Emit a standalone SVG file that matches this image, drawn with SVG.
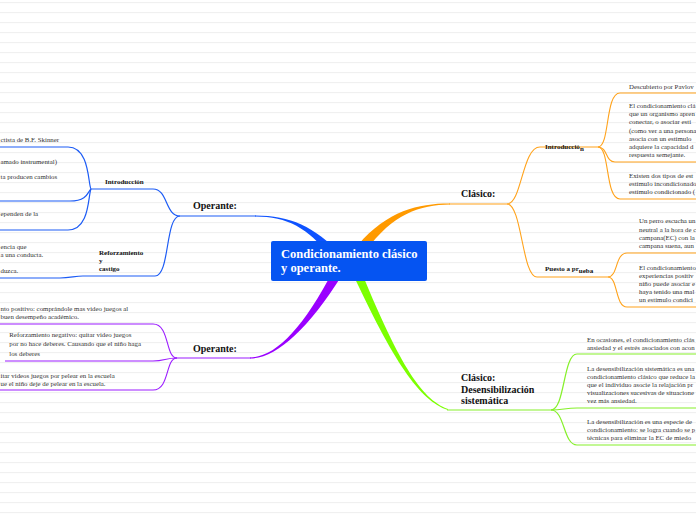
<svg xmlns="http://www.w3.org/2000/svg" width="696" height="520" viewBox="0 0 696 520">
<defs>
<pattern id="ruled" width="696" height="10" patternUnits="userSpaceOnUse">
<rect width="696" height="10" fill="#ffffff"/>
<line x1="0" y1="2.6" x2="696" y2="2.6" stroke="#efefef" stroke-width="1"/>
</pattern>
<style>
.lbl{font-family:"Liberation Serif","Times New Roman",serif;font-weight:bold;font-size:10px;fill:#111}
.sm{font-family:"Liberation Serif","Times New Roman",serif;font-weight:bold;font-size:7px;fill:#111}
.leaf{font-family:"Liberation Serif","Times New Roman",serif;font-size:6.85px;fill:#333}
.root{font-family:"Liberation Serif","Times New Roman",serif;font-weight:bold;font-size:12.5px;fill:#ffffff}
.cb{fill:none;stroke:#1d5cf5;stroke-width:1.2}
.co{fill:none;stroke:#ffa21a;stroke-width:1.1}
.cp{fill:none;stroke:#9b1cff;stroke-width:1.1}
.cg{fill:none;stroke:#86f02a;stroke-width:1.2}
</style>
</defs>
<rect width="696" height="520" fill="url(#ruled)"/>

<g id="connectors">
<path d="M 255 215.4 C 290 215.3, 314 226.3, 341.8 254.7 L 334.2 261.3 C 310 229.7, 290 216.7, 255 216.6 Z" fill="#0e52ff"/>
<path d="M 250 357.4 C 275 357.4, 303 328.8, 333.7 269.5 L 342.4 274.5 C 307 331.2, 275 358.6, 250 358.6 Z" fill="#9a00ff"/>
<path d="M 450 203.4 C 420 203.2, 387.5 210, 358.1 244.9 L 365.9 251.1 C 392.5 214, 420 204.8, 450 204.6 Z" fill="#ff9a00"/>
<path d="M 448 408.9 C 420.5 399.3, 397 359, 359.1 266.2 L 350.9 269.8 C 393 361, 419.5 400.7, 448 410.1 Z" fill="#7cff00"/>

<path class="cb" d="M 180 216 H 256"/>
<path class="cb" d="M 180 216 C 165 216, 168 189, 153 189 H 91"/>
<path class="cb" d="M 180 216 C 165 216, 170 276, 155 276 H 83"/>
<path class="cb" d="M 83 276 C 75 276, 70 278, 60 278 H 0"/>
<path class="cb" d="M 91 189 C 88 185, 90 147, 68 147 H 0"/>
<path class="cb" d="M 91 189 C 88 191, 88 201, 70 201 H 0"/>
<path class="cb" d="M 91 189 C 88 195, 90 230, 68 230 H 0"/>

<path class="cp" d="M 177 358 H 251"/>
<path class="cp" d="M 177 358 C 165 358, 170 324, 153 324 H 0"/>
<path class="cp" d="M 177 358 C 165 358, 165 361, 153 361 H 5"/>
<path class="cp" d="M 177 358 C 165 358, 170 390, 153 390 H 0"/>

<path class="co" d="M 449 204 H 507"/>
<path class="co" d="M 507 204 C 522 204, 522 147, 540 147 H 598"/>
<path class="co" d="M 507 204 C 522 204, 522 277, 537 277 H 608"/>
<path class="co" d="M 598 147 C 610 147, 605 93, 620 93 H 696"/>
<path class="co" d="M 598 147 C 608 147, 605 162, 615 162 H 696"/>
<path class="co" d="M 598 147 C 610 147, 605 199, 620 199 H 696"/>
<path class="co" d="M 608 277 C 618 277, 615 253, 627 253 H 696"/>
<path class="co" d="M 608 277 C 618 277, 615 307, 627 307 H 696"/>

<path class="cg" d="M 447 410 H 551"/>
<path class="cg" d="M 551 410 C 565 410, 563 354, 577 354 H 696"/>
<path class="cg" d="M 551 410 C 563 410, 565 408, 577 408 H 696"/>
<path class="cg" d="M 551 410 C 565 410, 563 445, 577 445 H 696"/>
</g>

<g id="root">
<rect x="271" y="241" width="156" height="40" rx="2" fill="#0554f2"/>
<text class="root" x="281" y="258">Condicionamiento clásico</text>
<text class="root" x="281" y="272">y operante.</text>
</g>

<g id="operante-1"><text class="lbl" x="193" y="208.5">Operante:</text></g>
<g id="introduccion-1"><text class="sm" x="105" y="184">Introducción</text></g>
<g id="reforzamiento"><text class="sm" x="99" y="255">Reforzamiento</text><text class="sm" x="99" y="263">y</text><text class="sm" x="99" y="271">castigo</text></g>
<g id="leaf-skinner"><text class="leaf" x="0.5" y="142">ctista de B.F. Skinner</text></g>
<g id="leaf-instrumental"><text class="leaf" x="0.5" y="163.5">amado instrumental)</text><text class="leaf" x="0.5" y="179">ta producen cambios</text></g>
<g id="leaf-dependen"><text class="leaf" x="0.5" y="216">ependen de la</text></g>
<g id="leaf-consecuencia"><text class="leaf" x="0.5" y="248.5">encia que</text><text class="leaf" x="0.5" y="257">a una conducta.</text><text class="leaf" x="0.5" y="272.5">duzca.</text></g>

<g id="operante-2"><text class="lbl" x="193" y="352">Operante:</text></g>
<g id="leaf-positivo"><text class="leaf" x="0.5" y="311">nto positivo: comprándole mas video juegos al</text><text class="leaf" x="0.5" y="319">buen desempeño académico.</text></g>
<g id="leaf-negativo"><text class="leaf" x="9.3" y="336.5">Reforzamiento negativo: quitar video juegos</text><text class="leaf" x="9.3" y="346">por no hace deberes. Causando que el niño haga</text><text class="leaf" x="9.3" y="355.5">los deberes</text></g>
<g id="leaf-castigo"><text class="leaf" x="0.5" y="378">itar videos juegos por pelear en la escuela</text><text class="leaf" x="0.5" y="385.5">ue el niño deje de pelear en la escuela.</text></g>

<g id="clasico"><text class="lbl" x="461" y="197">Clásico:</text></g>
<g id="introduccion-2"><text class="sm" x="545" y="149">Introducció<tspan dy="2">n</tspan></text></g>
<g id="puesto"><text class="sm" x="545" y="271">Puesto a pr<tspan dy="1.5">ueba</tspan></text></g>
<g id="leaf-pavlov"><text class="leaf" x="629" y="88.5">Descubierto por Pavlov</text></g>
<g id="leaf-def"><text class="leaf" x="629" y="108">El condicionamiento clá</text><text class="leaf" x="629" y="116.2">que un organismo apren</text><text class="leaf" x="629" y="124.4">conectar, o asociar estí</text><text class="leaf" x="629" y="132.6">(como ver a una persona</text><text class="leaf" x="629" y="140.8">asocia con un estímulo</text><text class="leaf" x="629" y="149">adquiere la capacidad d</text><text class="leaf" x="629" y="157.2">respuesta semejante.</text></g>
<g id="leaf-tipos"><text class="leaf" x="629" y="177.6">Existen dos tipos de est</text><text class="leaf" x="629" y="185.8">estímulo incondicionado</text><text class="leaf" x="629" y="194">estímulo condicionado (</text></g>
<g id="leaf-perro"><text class="leaf" x="639" y="223.4">Un perro escucha un</text><text class="leaf" x="639" y="231.6">neutral a la hora de c</text><text class="leaf" x="639" y="239.8">campana(EC) con la</text><text class="leaf" x="639" y="248">campana suena, aun</text></g>
<g id="leaf-experiencias"><text class="leaf" x="639" y="269.6">El condicionamiento</text><text class="leaf" x="639" y="277.8">experiencias positiv</text><text class="leaf" x="639" y="286">niño puede asociar e</text><text class="leaf" x="639" y="294.2">haya tenido una mal</text><text class="leaf" x="639" y="302.4">un estímulo condici</text></g>

<g id="clasico-desens"><text class="lbl" x="461" y="381">Clásico:</text><text class="lbl" x="461" y="392.8">Desensibilización</text><text class="lbl" x="461" y="404">sistemática</text></g>
<g id="leaf-ocasiones"><text class="leaf" x="587" y="341.5">En ocasiones, el condicionamiento clás</text><text class="leaf" x="587" y="349.7">ansiedad y el estrés asociados con acon</text></g>
<g id="leaf-desens"><text class="leaf" x="587" y="370.6">La desensibilización sistemática es una</text><text class="leaf" x="587" y="378.8">condicionamiento clásico que reduce la</text><text class="leaf" x="587" y="387">que el individuo asocie la relajación pr</text><text class="leaf" x="587" y="395.2">visualizaciones sucesivas de situacione</text><text class="leaf" x="587" y="403.4">vez más ansiedad.</text></g>
<g id="leaf-especie"><text class="leaf" x="587" y="424">La desensibilización es una especie de</text><text class="leaf" x="587" y="432.2">condicionamiento: se logra cuando se p</text><text class="leaf" x="587" y="440.4">técnicas para eliminar la EC de miedo</text></g>
</svg>
